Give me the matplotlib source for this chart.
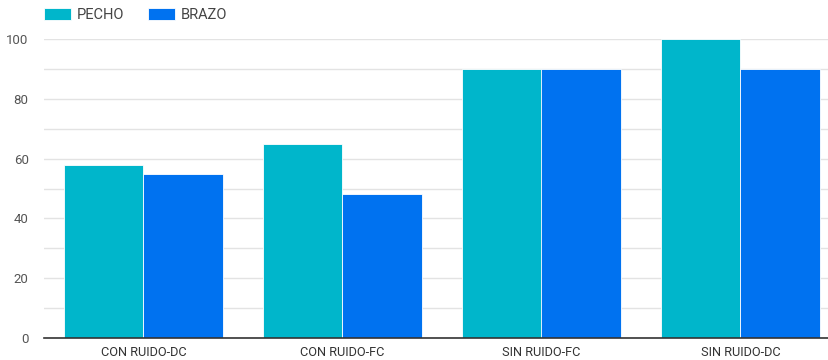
import matplotlib
matplotlib.use("Agg")
import matplotlib.pyplot as plt
import numpy as np

plt.rcParams['font.family'] = ['Roboto', 'DejaVu Sans']

categories = ['CON RUIDO-DC', 'CON RUIDO-FC', 'SIN RUIDO-FC', 'SIN RUIDO-DC']
pecho = [58, 65, 90, 100]
brazo = [55, 48, 90, 90]
series_names = ['PECHO', 'BRAZO']
colors = ['#00b6cb', '#0072f0']

fig = plt.figure(figsize=(8.29, 3.6), dpi=100)
ax = fig.add_axes([44 / 829, 22 / 360, 796 / 829, 299 / 360])

x = np.arange(len(categories))
w = 0.4
ax.bar(x - w / 2, pecho, w, color=colors[0], edgecolor='white', linewidth=0.6, label=series_names[0], zorder=3)
ax.bar(x + w / 2, brazo, w, color=colors[1], edgecolor='white', linewidth=0.6, label=series_names[1], zorder=3)

ax.set_xlim(-0.5, len(categories) - 0.5)
ax.set_ylim(0, 100)
ax.set_yticks(range(0, 101, 20))
ax.set_yticks(range(10, 100, 20), minor=True)
ax.grid(axis='y', which='both', color='#e3e3e3', linewidth=1, zorder=0)
ax.tick_params(axis='y', which='both', length=0, pad=11, labelsize=9.5, labelcolor='#555555')
ax.set_xticks(x)
ax.set_xticklabels(categories)
ax.tick_params(axis='x', length=0, pad=6, labelsize=9.2, labelcolor='#333333')

for s in ['top', 'right', 'left']:
    ax.spines[s].set_visible(False)
ax.spines['bottom'].set_color('#333333')
ax.spines['bottom'].set_linewidth(1.2)
ax.spines['bottom'].set_zorder(4)

fig.legend(loc='upper left', bbox_to_anchor=(44 / 829, 1 - 8 / 360), ncol=2, frameon=False,
           fontsize=10.5, handlelength=1.85, handleheight=0.9, handletextpad=0.42,
           columnspacing=1.6, borderaxespad=0, borderpad=0, labelcolor='#444444')

fig.savefig('out.png', dpi=100)
